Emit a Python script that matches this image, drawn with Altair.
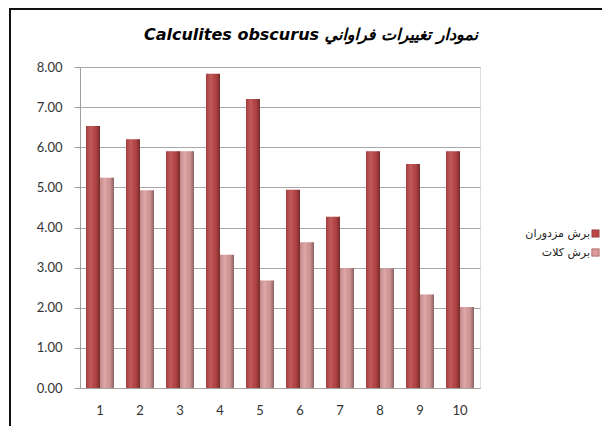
import altair as alt
import pandas as pd

categories = [str(i) for i in range(1, 11)]
series_names = ["برش مزدوران", "برش کلات"]
mazdouran = [6.53, 6.20, 5.90, 7.83, 7.20, 4.94, 4.27, 5.90, 5.58, 5.90]
kalat = [5.24, 4.93, 5.90, 3.32, 2.68, 3.63, 2.99, 2.98, 2.33, 2.02]
colors = ["#bb4646", "#dc9c9c"]

rows = []
for c, a, b in zip(categories, mazdouran, kalat):
    rows.append({"cat": c, "series": series_names[0], "value": a})
    rows.append({"cat": c, "series": series_names[1], "value": b})
df = pd.DataFrame(rows)

font = "Lato"

x_enc = alt.X("cat:N", sort=categories, title=None,
              scale=alt.Scale(paddingInner=0.3, paddingOuter=0.15),
              axis=alt.Axis(labelAngle=0, labelFont=font, labelFontSize=13, labelColor="#333333",
                            labelPadding=16, ticks=False, domainColor="#a0a0a0"))
xoff_enc = alt.XOffset("series:N", sort=series_names)
y_enc = alt.Y("value:Q", title=None,
              scale=alt.Scale(domain=[0, 8]),
              axis=alt.Axis(format=".2f", values=[0, 1, 2, 3, 4, 5, 6, 7, 8],
                            labelFont=font, labelFontSize=13, labelColor="#333333",
                            labelPadding=12, tickColor="#a0a0a0", tickSize=6,
                            domainColor="#a0a0a0", gridColor="#a8a8a8", gridWidth=1))

bars = alt.Chart(df).mark_bar().encode(
    x=x_enc, xOffset=xoff_enc, y=y_enc,
    color=alt.Color("series:N", sort=series_names,
                    scale=alt.Scale(domain=series_names, range=colors),
                    legend=alt.Legend(title=None, orient="none", legendX=510, legendY=161,
                                      labelFont="DejaVu Sans", labelFontSize=11,
                                      labelColor="#222222", symbolType="square",
                                      symbolSize=55, symbolStrokeColor="#7a2a2a",
                                      symbolStrokeWidth=0.5,
                                      labelAlign="right", labelOffset={"expr": "-11"},
                                      rowPadding=7)),
)

shade = alt.Chart(df).mark_bar(
    color=alt.Gradient(
        gradient="linear", x1=0, x2=1, y1=0, y2=0,
        stops=[
            alt.GradientStop(offset=0, color="rgba(0,0,0,0.12)"),
            alt.GradientStop(offset=0.35, color="rgba(255,255,255,0.12)"),
            alt.GradientStop(offset=0.7, color="rgba(0,0,0,0.05)"),
            alt.GradientStop(offset=1, color="rgba(0,0,0,0.38)"),
        ],
    )
).encode(x=x_enc, xOffset=xoff_enc, y=y_enc)

frame = alt.Chart(pd.DataFrame({"k": [0]})).mark_rect(
    fill=None, stroke="#111111", strokeWidth=2
).encode(
    x=alt.value(-70), x2=alt.value(526), y=alt.value(-58), y2=alt.value(370)
)

chart = alt.layer(bars, shade, frame).properties(
    width=400, height=321,
    padding={"left": 72, "top": 59, "right": 122, "bottom": 38},
    autosize=alt.AutoSizeParams(type="none"),
    title=alt.TitleParams(
        text="Calculites obscurus  نمودار تغییرات فراواني",
        font="DejaVu Sans", fontSize=16, fontWeight="bold", fontStyle="italic",
        color="#000000", frame="group", anchor="middle", dx=31, dy=35, offset=0,
    ),
).configure_view(stroke=None).configure(background="white")

chart.save("out.html", embed_options={"renderer": "svg", "actions": False})
